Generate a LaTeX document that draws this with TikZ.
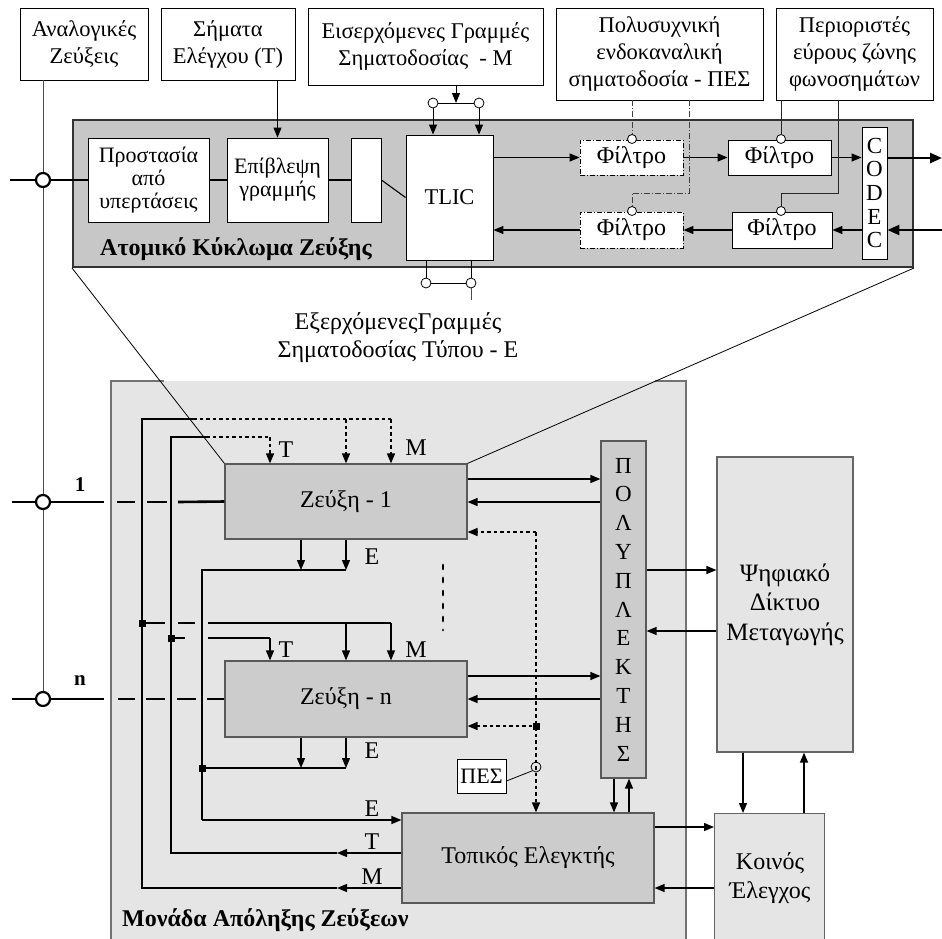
\documentclass[tikz,border=0pt]{standalone}
\usepackage{fontspec}
\setmainfont{Liberation Serif}
\usetikzlibrary{arrows.meta}
\begin{document}
\begin{tikzpicture}[x=1pt,y=-1pt,
  font=\fontsize{22}{23}\selectfont,
  >={Triangle[length=10pt,width=8pt]},
  bigtip/.style={-{Triangle[length=12pt,width=10pt]}, line width=2.5pt},
  topbox/.style={draw=black, line width=0.9pt, fill=white, inner sep=0pt, align=center, font=\fontsize{22.5}{27}\selectfont},
  inbox/.style={draw=black, line width=0.9pt, fill=white, inner sep=0pt, align=center},
  ddbox/.style={draw=black, line width=0.9pt, fill=white, inner sep=0pt, align=center, dash pattern=on 5pt off 2pt on 1pt off 2pt},
  zbox/.style={draw=black!65, line width=1.2pt, fill=black!20, inner sep=0pt, align=center},
  lgbox/.style={draw=black!60, line width=1.2pt, fill=black!10, inner sep=0pt, align=center},
  arr/.style={->, line width=1.3pt},
  ln/.style={line width=1.3pt},
  thk/.style={line width=2.6pt},
  dotl/.style={line width=1.5pt, dash pattern=on 3.5pt off 3pt},
  darr/.style={->, line width=1.5pt, dash pattern=on 3.5pt off 3pt},
  pesl/.style={line width=0.8pt, draw=black!75, dash pattern=on 6pt off 2pt on 1pt off 2pt},
  perl/.style={line width=0.8pt, draw=black!85},
  port/.style={circle, draw=black, line width=0.8pt, fill=white, minimum size=10pt, inner sep=0pt},
  bport/.style={circle, draw=black, line width=2.2pt, fill=white, minimum size=14pt, inner sep=0pt},
  jsq/.style={rectangle, fill=black, minimum size=7pt, inner sep=0pt},
  lbl/.style={inner sep=0pt, font=\fontsize{24}{26}\selectfont},
  filt/.style={font=\fontsize{24}{26}\selectfont}
]
\useasboundingbox (0,0) rectangle (942,938);

% ---------- lower unit box ----------
\fill[black!10] (111,381) rectangle (686,950);
\draw[draw=black!55, line width=1.4pt] (164,381) -- (111,381) -- (111,950);
\draw[draw=black!55, line width=1.4pt] (655,381) -- (686,381) -- (686,950);

% ---------- top boxes ----------
\node[topbox, minimum width=128, minimum height=72] (analog) at (84,44) {Αναλογικές\\Ζεύξεις};
\node[topbox, minimum width=134, minimum height=72] (simata) at (228,44) {Σήματα\\Ελέγχου (Τ)};
\node[topbox, minimum width=235, minimum height=77] (eiserx) at (425.5,46.5) {Εισερχόμενες Γραμμές\\Σηματοδοσίας\ \ - Μ};
\node[topbox, minimum width=207, minimum height=92] (pes) at (659.5,54) {Πολυσυχνική\\ενδοκαναλική\\σηματοδοσία - ΠΕΣ};
\node[topbox, minimum width=157, minimum height=92] (perior) at (854.5,54) {Περιοριστές\\εύρους ζώνης\\φωνοσημάτων};

% ---------- atomic circuit ----------
\node[draw=black!80, line width=2pt, fill=black!22, minimum width=840, minimum height=147, inner sep=0pt] (atom) at (493,193.5) {};
\node[inner sep=0pt, anchor=west, font=\bfseries\fontsize{24}{26}\selectfont] (atomlbl) at (100,249) {Ατομικό Κύκλωμα Ζεύξης};

\node[inbox, minimum width=121, minimum height=84] (prot) at (148.5,180) {Προστασία\\από\\υπερτάσεις};
\node[inbox, minimum width=101, minimum height=84] (epiv) at (277.5,180) {Επίβλεψη\\γραμμής};
\node[inbox, minimum width=30, minimum height=84] (blank) at (366,180) {};
\node[inbox, minimum width=87, minimum height=125, font=\fontsize{22.5}{25}\selectfont] (tlic) at (449.5,197.5) {TLIC};
\node[ddbox, filt, minimum width=103, minimum height=35] (f1) at (631.5,157.5) {Φίλτρο};
\node[inbox, filt, minimum width=103, minimum height=35] (f2) at (779.5,157.5) {Φίλτρο};
\node[ddbox, filt, minimum width=103, minimum height=36] (f3) at (631.5,230) {Φίλτρο};
\node[inbox, filt, minimum width=100, minimum height=36] (f4) at (782,230) {Φίλτρο};
\node[inbox, minimum width=25, minimum height=132, font=\fontsize{23}{23.7}\selectfont] (codec) at (874.5,193) {C\\O\\D\\E\\C};

% main incoming line
\coordinate (lin0) at (10,180);
\draw[thk] (lin0) -- (prot.west);
\draw[ln, line width=1.1pt] (prot.east) -- (epiv.west);
\draw[ln, line width=1.1pt] (epiv.east) -- (blank.west);
\draw[ln, line width=1.1pt] (blank.east) -- (tlic.west);

% analog vertical line
\coordinate (anbot) at (43,692);
\draw[line width=1pt, draw=black!70] (analog.south -| anbot) -- (anbot);
\node[bport] (c0) at (43,180) {};

% signals T
\draw[arr, line width=1pt] (simata.south -| epiv.north) -- (epiv.north);

% incoming M
\coordinate (mj) at (456,103);
\draw[arr, line width=1pt] (eiserx.south -| mj) -- (mj);
\node[port] (mp1) at (433,103) {};
\node[port] (mp2) at (479,103) {};
\draw[line width=1pt] (mp1) -- (mp2);
\draw[arr, line width=1pt] (mp1.south) -- (tlic.north -| mp1);
\draw[arr, line width=1pt] (mp2.south) -- (tlic.north -| mp2);

% outgoing E
\node[port] (ep1) at (426,283) {};
\node[port] (ep2) at (471,283) {};
\draw[line width=1pt] (tlic.south -| ep1) -- (ep1.north);
\draw[line width=1pt] (tlic.south -| ep2) -- (ep2.north);
\draw[line width=1pt] (ep1) -- (ep2);
\coordinate (eend) at (471,300);
\draw[line width=1pt, draw=black!70] (ep2.south) -- (eend);
\node[inner sep=0pt, align=center, font=\fontsize{24}{28}\selectfont] (etext) at (398,338) {ΕξερχόμενεςΓραμμές\\Σηματοδοσίας Τύπου - Ε};

% filter chain
\draw[arr] (tlic.east |- f1.west) -- (f1.west);
\draw[arr] (f1.east) -- (f2.west);
\draw[arr] (f2.east) -- (codec.west |- f2.east);
\coordinate (outR) at (942,158);
\coordinate (inR) at (942,230);
\draw[bigtip] (codec.east |- outR) -- (outR);
\draw[bigtip] (inR) -- (codec.east |- inR);
\draw[arr] (codec.west |- f4.east) -- (f4.east);
\draw[arr] (f4.west) -- (f3.east);
\draw[arr] (f3.west) -- (tlic.east |- f3.west);

% PES control lines
\node[port, minimum size=9pt] (pc1) at (632,139) {};
\node[port, minimum size=9pt] (pc2) at (632,211) {};
\draw[pesl] (pes.south -| pc1) -- (pc1.north);
\draw[pesl] (pes.south -| 689,0) -- (689,193) -- (632,193) -- (pc2.north);
% limiter lines
\node[port, minimum size=9pt] (lc1) at (781,139) {};
\node[port, minimum size=9pt] (lc2) at (781,211) {};
\draw[perl] (perior.south -| lc1) -- (lc1.north);
\draw[perl] (perior.south -| 838,0) -- (838,193) -- (781,193) -- (lc2.north);

% ---------- link boxes ----------
\node[zbox, minimum width=242, minimum height=75, font=\fontsize{24}{26}\selectfont] (z1) at (346,501.5) {Ζεύξη - 1};
\node[zbox, minimum width=242, minimum height=76, font=\fontsize{24}{26}\selectfont] (zn) at (346,699) {Ζεύξη - n};

% cone lines
\draw[line width=0.8pt] (atom.south west) -- (z1.north west);
\draw[line width=0.8pt] (atom.south east) -- (z1.north east);

% multiplexer etc.
\node[zbox, minimum width=45, minimum height=337, font=\fontsize{23}{28.8}\selectfont] (pol) at (623.5,609.5) {Π\\Ο\\Λ\\Υ\\Π\\Λ\\Ε\\Κ\\Τ\\Η\\Σ};
\node[lgbox, minimum width=136, minimum height=295, font=\fontsize{25}{29.5}\selectfont] (psif) at (785,604.5) {Ψηφιακό\\Δίκτυο\\Μεταγωγής};
\node[zbox, minimum width=252, minimum height=90, font=\fontsize{24}{26}\selectfont] (topik) at (528,858) {Τοπικός Ελεγκτής};
\node[lgbox, minimum width=110, minimum height=140, anchor=north west] (koin) at (714,813) {};
\node[inner sep=0pt, align=center, font=\fontsize{24}{29}\selectfont] (kointxt) at (770,878) {Κοινός\\Έλεγχος};

% subscriber lines 1 and n
\coordinate (l1a) at (12,502);
\coordinate (l1b) at (104,502);
\draw[thk] (l1a) -- (l1b);
\draw[thk] (117,502) -- (135,502);
\draw[thk] (147,502) -- (167,502);
\draw[thk] (178,502) -- (z1.west);
\node[bport] (c1) at (43,502) {};
\node[inner sep=0pt, font=\bfseries\fontsize{21}{23}\selectfont] (n1) at (80,485) {1};

\coordinate (lna) at (12,699);
\coordinate (lnb) at (104,699);
\draw[thk] (lna) -- (lnb);
\draw[thk] (118,699) -- (135,699);
\draw[thk] (146,699) -- (165,699);
\draw[thk] (177,699) -- (196,699);
\draw[thk] (207,699) -- (zn.west);
\node[bport] (cn) at (43,699) {};
\node[inner sep=0pt, font=\bfseries\fontsize{21}{23}\selectfont] (nn) at (80,681) {n};

% M bus
\draw[arr] (topik.west |- 0,888) -- (337,888);
\draw[ln] (337,888) -- (142,888) -- (142,419) -- (193,419);
\draw[dotl] (193,419) -- (391,419);
\draw[darr] (346,419) -- (z1.north -| 346,0);
\draw[darr] (391,419) -- (z1.north -| 391,0);
% T bus
\draw[arr] (topik.west |- 0,853) -- (337,853);
\draw[ln] (337,853) -- (171,853) -- (171,437) -- (206,437);
\draw[dotl] (206,437) -- (270,437);
\draw[darr] (270,437) -- (z1.north -| 270,0);
% E bus
\draw[arr] (z1.south -| 301,0) -- (301,570);
\draw[arr] (z1.south -| 346,0) -- (346,570);
\draw[ln] (346,570) -- (202,570) -- (202,820);
\draw[arr] (202,820) -- (topik.west |- 0,820);

% zn buses
\node[jsq] (sqM) at (142,623) {};
\node[jsq] (sqT) at (171,638) {};
\node[jsq] (sqE) at (202,768) {};
\draw[ln] (sqM) -- (165,623);
\draw[ln] (178,623) -- (195,623);
\draw[ln] (208,623) -- (391,623);
\draw[arr] (346,623) -- (zn.north -| 346,0);
\draw[arr] (391,623) -- (zn.north -| 391,0);
\draw[ln] (sqT) -- (185,638);
\draw[ln] (208,638) -- (270,638);
\draw[arr] (270,638) -- (zn.north -| 270,0);
\draw[arr] (zn.south -| 301,0) -- (301,768);
\draw[arr] (zn.south -| 346,0) -- (346,768);
\draw[ln] (346,768) -- (sqE);

% labels
\node[lbl] (tl1) at (286,450) {Τ};
\node[lbl] (ml1) at (416,448) {Μ};
\node[lbl] (el1) at (372,557) {Ε};
\node[lbl] (tl2) at (286,650) {Τ};
\node[lbl] (ml2) at (416,650) {Μ};
\node[lbl] (el2) at (372,751) {Ε};
\node[lbl] (el3) at (372,809) {Ε};
\node[lbl] (tl3) at (372,842) {Τ};
\node[lbl] (ml3) at (372,877) {Μ};

% vertical ellipsis
\draw[line width=2.8pt, line cap=round, dash pattern=on 4pt off 9pt] (443,565) -- (443,630);

% z1 / zn <-> multiplexer
\draw[arr] (z1.east |- 0,479) -- (pol.west |- 0,479);
\draw[arr] (pol.west |- 0,502) -- (z1.east |- 0,502);
\draw[arr] (zn.east |- 0,676) -- (pol.west |- 0,676);
\draw[arr] (pol.west |- 0,699) -- (zn.east |- 0,699);

% PES dotted distribution
\draw[darr] (536,532) -- (z1.east |- 0,532);
\draw[darr] (536,532) -- (topik.north -| 536,0);
\node[jsq] (sqP) at (536,726) {};
\draw[darr] (sqP) -- (zn.east |- sqP);
\node[circle, draw=black, line width=0.8pt, minimum size=10pt, inner sep=0pt] (pcirc) at (536,767) {};
\node[inbox, minimum width=49, minimum height=34] (pesb) at (481.5,776) {ΠΕΣ};
\draw[line width=0.8pt] (pesb.east |- 0,781) -- (pcirc.south west);

% multiplexer <-> network
\draw[arr] (pol.east |- 0,570) -- (psif.west |- 0,570);
\draw[arr] (psif.west |- 0,631) -- (pol.east |- 0,631);
% multiplexer <-> local controller
\draw[arr] (pol.south -| 614,0) -- (topik.north -| 614,0);
\draw[arr] (topik.north -| 629,0) -- (pol.south -| 629,0);
% local <-> common
\draw[arr] (topik.east |- 0,827) -- (koin.west |- 0,827);
\draw[arr] (koin.west |- 0,888) -- (topik.east |- 0,888);
% network <-> common
\draw[arr] (psif.south -| 743,0) -- (koin.north -| 743,0);
\draw[arr] (koin.north -| 804,0) -- (psif.south -| 804,0);

\node[inner sep=0pt, anchor=west, font=\bfseries\fontsize{24}{26}\selectfont] (monlbl) at (122,920) {Μονάδα Απόληξης Ζεύξεων};
\end{tikzpicture}
\end{document}
